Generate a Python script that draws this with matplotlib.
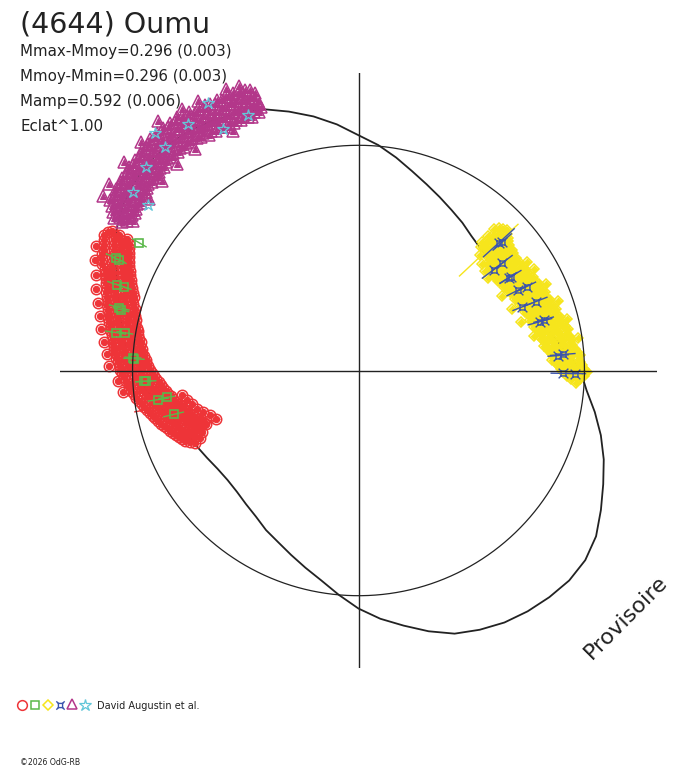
import numpy as np
import matplotlib
matplotlib.use('Agg')
import matplotlib.pyplot as plt
from matplotlib.path import Path

# lightcurve model: rotation angle (deg) -> relative brightness (mag)
curve_ang = [0, 5, 10, 15, 20, 25, 30, 35, 40, 45, 50, 55, 60, 65, 70, 75, 80, 85, 90, 95, 100, 105,
             110, 115, 120, 125, 130, 135, 140, 145, 150, 155, 160, 165, 170, 175, 180, 185, 190, 195,
             200, 205, 210, 215, 220, 225, 230, 235, 240, 245, 250, 255, 260, 265, 270, 275, 280, 285,
             290, 295, 300, 305, 310, 315, 320, 325, 330, 335, 340, 345, 350, 355]
curve_dm = [-0.019, -0.079, -0.130, -0.167, -0.191, -0.214, -0.228, -0.242, -0.251, -0.247, -0.233,
            -0.209, -0.186, -0.158, -0.126, -0.088, -0.042, 0.005, 0.047, 0.102, 0.153, 0.200, 0.247,
            0.274, 0.298, 0.316, 0.326, 0.326, 0.312, 0.288, 0.251, 0.195, 0.144, 0.102, 0.065, 0.033,
            0.000, -0.056, -0.107, -0.163, -0.200, -0.219, -0.237, -0.251, -0.256, -0.251, -0.237,
            -0.219, -0.191, -0.167, -0.135, -0.098, -0.056, 0.000, 0.060, 0.112, 0.158, 0.209, 0.256,
            0.284, 0.307, 0.321, 0.330, 0.335, 0.326, 0.298, 0.251, 0.205, 0.163, 0.116, 0.065, 0.014]

# red circles
red_ang = [150.4, 151.0, 151.9, 152.8, 153.7, 154.6, 155.5, 156.4, 157.3, 158.2, 159.1,
           160.0, 160.9, 161.8, 162.7, 163.6, 164.5, 165.4, 166.3, 167.2, 168.1, 169.0, 169.9, 170.8,
           171.7, 172.6, 173.5, 174.4, 175.3, 176.2, 177.1, 178.0, 178.9, 179.8, 180.7, 181.6, 182.5,
           183.4, 184.3, 185.2, 186.1, 187.0, 187.9, 188.8, 189.7, 190.6, 191.5, 192.4, 193.3, 194.2,
           195.1, 196.0, 196.9, 197.8, 198.7, 199.6, 200.5, 201.4, 202.3, 203.2, 204.1]
red_dm = [[0.27, 0.23, 0.19], [0.28, 0.24, 0.20, 0.17],
          [0.29, 0.24, 0.20, 0.16], [0.28, 0.23, 0.19, 0.15],
          [0.27, 0.22, 0.18, 0.14], [0.26, 0.21, 0.17, 0.13, 0.30], [0.26, 0.21, 0.16, 0.12],
          [0.25, 0.20, 0.15, 0.11], [0.24, 0.19, 0.14, 0.10, 0.28], [0.22, 0.18, 0.13, 0.09],
          [0.21, 0.17, 0.12, 0.08], [0.20, 0.16, 0.11, 0.07, 0.25], [0.19, 0.15, 0.10, 0.06],
          [0.18, 0.14, 0.09, 0.05], [0.18, 0.13, 0.09, 0.05, 0.23], [0.17, 0.13, 0.08, 0.04],
          [0.16, 0.12, 0.07, 0.03], [0.16, 0.11, 0.07, 0.03, 0.20], [0.15, 0.11, 0.06, 0.02],
          [0.14, 0.10, 0.05, 0.01], [0.14, 0.09, 0.05, 0.01, 0.18], [0.13, 0.09, 0.04, 0.00],
          [0.12, 0.08, 0.04, -0.01], [0.12, 0.07, 0.03, -0.01, 0.16], [0.11, 0.07, 0.02, -0.02],
          [0.10, 0.06, 0.02, -0.03], [0.10, 0.06, 0.01, -0.03, 0.14], [0.09, 0.05, 0.01, -0.04],
          [0.09, 0.04, 0.00, -0.04], [0.08, 0.04, -0.01, -0.05, 0.12], [0.08, 0.03, -0.01, -0.06],
          [0.07, 0.03, -0.02, -0.06], [0.06, 0.02, -0.03, -0.07, 0.11], [0.06, 0.01, -0.03, -0.08],
          [0.05, 0.00, -0.04, -0.09], [0.04, -0.01, -0.05, -0.10], [0.03, -0.02, -0.06, -0.11, 0.07],
          [0.02, -0.03, -0.07, -0.12], [0.02, -0.03, -0.08, -0.13], [0.01, -0.04, -0.09, -0.14, 0.05],
          [0.00, -0.05, -0.10, -0.15], [-0.01, -0.06, -0.11, -0.16], [-0.02, -0.07, -0.12, -0.17, -0.22],
          [-0.03, -0.08, -0.13, -0.18], [-0.04, -0.09, -0.14, -0.19, -0.24], [-0.05, -0.10, -0.15, -0.20],
          [-0.06, -0.11, -0.16, -0.21, -0.26], [-0.07, -0.12, -0.17, -0.22],
          [-0.08, -0.13, -0.18, -0.23, -0.28], [-0.09, -0.14, -0.19, -0.24],
          [-0.10, -0.15, -0.20, -0.25, -0.30], [-0.11, -0.16, -0.21, -0.26],
          [-0.12, -0.17, -0.22, -0.27, -0.33], [-0.13, -0.18, -0.23, -0.28],
          [-0.14, -0.19, -0.24, -0.29, -0.35], [-0.15, -0.20, -0.25, -0.30], [-0.16, -0.21, -0.26],
          [-0.17, -0.22, -0.27], [-0.18, -0.23], [-0.20, -0.25], [-0.22]]
red_bar_ang = [190.5, 197.5, 199.5]
red_bar_dm = [-0.08, -0.28, -0.30]
red_bar_err = [0.09, 0.08, 0.07]

# green squares
green_ang = [149.7, 155.1, 155.2, 160.4, 160.3, 165.2, 165.6, 171.1, 170.8, 176.7, 177.0, 182.9,
             182.9, 188.3, 188.0, 193.4]
green_dm = [0.13, 0.195, 0.177, 0.14, 0.11, 0.10, 0.09, 0.093, 0.05, 0.0, -0.005, -0.05, -0.06,
            -0.11, -0.15, -0.167]
green_err = [0.04, 0.05, 0.04, 0.05, 0.04, 0.05, 0.04, 0.05, 0.04, 0.04, 0.05, 0.04, 0.05, 0.05,
             0.04, 0.05]

# yellow diamonds
yel_ang = [46.3, 45.4, 44.5, 43.6, 42.7, 41.8, 40.9, 40.0, 39.1, 38.2, 37.3, 36.4, 35.5, 34.6, 33.7,
           32.8, 31.9, 31.0, 30.1, 29.2, 28.3, 27.4, 26.5, 25.6, 24.7, 23.8, 22.9, 22.0, 21.1, 20.2,
           19.3, 18.4, 17.5, 16.6, 15.7, 14.8, 13.9, 13.0, 12.1, 11.2, 10.3, 9.4, 8.5, 7.6, 6.7, 5.8,
           4.9, 4.0, 3.1, 2.2, 1.3, 0.4, -0.5, -1.4, -2.3, -3.2]
yel_dm = [[-0.14, -0.18, -0.22], [-0.12, -0.16, -0.20, -0.24], [-0.11, -0.15, -0.19, -0.23],
          [-0.10, -0.14, -0.18, -0.22, -0.27], [-0.11, -0.15, -0.19, -0.23], [-0.12, -0.16, -0.20, -0.24],
          [-0.13, -0.17, -0.21, -0.25, -0.29], [-0.14, -0.18, -0.22, -0.26], [-0.15, -0.19, -0.23, -0.27],
          [-0.14, -0.18, -0.22, -0.26, -0.30], [-0.15, -0.19, -0.23, -0.27], [-0.16, -0.20, -0.24, -0.28],
          [-0.15, -0.19, -0.23, -0.27, -0.31], [-0.16, -0.20, -0.24, -0.28], [-0.15, -0.19, -0.23, -0.27],
          [-0.16, -0.20, -0.24, -0.28, -0.12], [-0.15, -0.19, -0.23, -0.27], [-0.14, -0.18, -0.22, -0.26],
          [-0.15, -0.19, -0.23, -0.27, -0.11], [-0.14, -0.18, -0.22, -0.26], [-0.13, -0.17, -0.21, -0.25],
          [-0.14, -0.18, -0.22, -0.26, -0.30], [-0.13, -0.17, -0.21, -0.25], [-0.12, -0.16, -0.20, -0.24],
          [-0.13, -0.17, -0.21, -0.25, -0.09], [-0.12, -0.16, -0.20, -0.24], [-0.11, -0.15, -0.19, -0.23],
          [-0.12, -0.16, -0.20, -0.24, -0.28], [-0.11, -0.15, -0.19, -0.23], [-0.10, -0.14, -0.18, -0.22],
          [-0.11, -0.15, -0.19, -0.23, -0.07], [-0.10, -0.14, -0.18, -0.22], [-0.09, -0.13, -0.17, -0.21],
          [-0.10, -0.14, -0.18, -0.22, -0.26], [-0.09, -0.13, -0.17, -0.21], [-0.08, -0.12, -0.16, -0.20],
          [-0.09, -0.13, -0.17, -0.21, -0.05], [-0.08, -0.12, -0.16, -0.20], [-0.07, -0.11, -0.15, -0.19],
          [-0.06, -0.10, -0.14, -0.18, -0.22], [-0.07, -0.11, -0.15, -0.19], [-0.06, -0.10, -0.14, -0.18],
          [-0.05, -0.09, -0.13, -0.17, -0.02], [-0.06, -0.10, -0.14, -0.18], [-0.05, -0.09, -0.13, -0.17],
          [-0.04, -0.08, -0.12, -0.16], [-0.03, -0.07, -0.11, -0.15], [-0.02, -0.06, -0.10, -0.14],
          [-0.03, -0.07, -0.11, -0.15], [-0.02, -0.06, -0.10, -0.13], [-0.01, -0.05, -0.09, -0.12],
          [0.00, -0.04, -0.08, -0.11], [0.01, -0.03, -0.07, -0.10], [0.00, -0.04, -0.08], [-0.02, -0.06],
          [-0.04]]
yel_bar_ang = [43.2, 42.6]
yel_bar_dm = [-0.31, -0.11]
yel_bar_err = [0.10, 0.07]

# blue symbols
blue_ang = [42.4, 41.9, 36.8, 36.9, 31.8, 31.7, 26.8, 26.6, 21.3, 21.3, 15.1, 15.4, 4.3, 4.5, -0.8, -0.8]
blue_dm = [-0.167, -0.153, -0.265, -0.214, -0.23, -0.22, -0.22, -0.177, -0.233, -0.167, -0.177,
           -0.158, -0.12, -0.098, -0.098, -0.042]
blue_err = [0.10, 0.06, 0.07, 0.06, 0.05, 0.06, 0.06, 0.05, 0.05, 0.06, 0.06, 0.05, 0.05, 0.06,
            0.06, 0.05]

# purple triangles
pur_ang = [110.3, 111.1, 111.9, 112.7, 113.5, 114.3, 115.1, 115.9, 116.7, 117.5, 118.3, 119.1, 119.9,
           120.7, 121.5, 122.3, 123.1, 123.9, 124.7, 125.5, 126.3, 127.1, 127.9, 128.7, 129.5, 130.3,
           131.1, 131.9, 132.7, 133.5, 134.3, 135.1, 135.9, 136.7, 137.5, 138.3, 139.1, 139.9, 140.7,
           141.5, 142.3, 143.1, 143.9, 144.7, 145.5, 146.3, 147.1, 147.9]
pur_dm = [[0.33, 0.29, 0.26], [0.35, 0.31, 0.27, 0.24], [0.36, 0.32, 0.28, 0.25],
          [0.35, 0.31, 0.27, 0.23, 0.39], [0.36, 0.32, 0.28, 0.24], [0.37, 0.33, 0.29, 0.25],
          [0.36, 0.32, 0.28, 0.24, 0.40], [0.37, 0.33, 0.29, 0.25], [0.36, 0.32, 0.28, 0.24],
          [0.37, 0.33, 0.29, 0.25, 0.21], [0.36, 0.32, 0.28, 0.24], [0.37, 0.33, 0.29, 0.25],
          [0.38, 0.34, 0.30, 0.26], [0.37, 0.33, 0.29, 0.25, 0.41], [0.38, 0.34, 0.30, 0.26],
          [0.37, 0.33, 0.29, 0.25], [0.39, 0.35, 0.31, 0.27], [0.38, 0.34, 0.30, 0.26, 0.42],
          [0.39, 0.35, 0.31, 0.27], [0.40, 0.36, 0.32, 0.28], [0.39, 0.35, 0.31, 0.27, 0.23],
          [0.40, 0.36, 0.32, 0.28], [0.39, 0.35, 0.31, 0.27], [0.40, 0.36, 0.32, 0.28, 0.44],
          [0.39, 0.35, 0.31, 0.27], [0.40, 0.36, 0.32, 0.28], [0.39, 0.35, 0.31, 0.27, 0.23],
          [0.40, 0.36, 0.32, 0.28], [0.39, 0.35, 0.31, 0.27], [0.38, 0.34, 0.30, 0.26, 0.42],
          [0.39, 0.35, 0.31, 0.27], [0.38, 0.34, 0.30, 0.26], [0.37, 0.33, 0.29, 0.25, 0.22],
          [0.38, 0.34, 0.30, 0.26], [0.37, 0.33, 0.29, 0.25], [0.38, 0.34, 0.30, 0.26, 0.41],
          [0.37, 0.33, 0.29, 0.25], [0.36, 0.32, 0.28, 0.24], [0.37, 0.33, 0.29, 0.25, 0.21],
          [0.36, 0.32, 0.28, 0.24], [0.35, 0.31, 0.27, 0.23], [0.36, 0.32, 0.28, 0.24, 0.40],
          [0.35, 0.31, 0.27, 0.23], [0.34, 0.30, 0.26, 0.22], [0.35, 0.31, 0.27, 0.23, 0.39],
          [0.33, 0.29, 0.25, 0.21], [0.31, 0.27, 0.23], [0.29, 0.25]]

# cyan stars
cyan_ang = [119.3, 113.4, 119.2, 124.6, 130.5, 130.7, 136.2, 141.6, 141.7]
cyan_dm = [0.381, 0.247, 0.242, 0.349, 0.405, 0.326, 0.321, 0.288, 0.195]

title = "(4644) Oumu"
info_lines = ["Mmax-Mmoy=0.296 (0.003)", "Mmoy-Mmin=0.296 (0.003)", "Mamp=0.592 (0.006)", "Eclat^1.00"]
source = "David Augustin et al."

R0 = 0.757      # radius of mean magnitude circle
SCALE = 0.72    # radius units per magnitude

RED = '#ee3438'
GREEN = '#5bb84a'
YELLOW = '#f6e51c'
BLUE = '#3b54ad'
PURPLE = '#b3378a'
CYAN = '#63c7d9'
INK = '#222222'


def polar(ang, dm):
    a = np.radians(np.asarray(ang, dtype=float))
    r = R0 + SCALE * np.asarray(dm, dtype=float)
    return r * np.cos(a), r * np.sin(a)


def flatten(angs, groups):
    a = [ang for ang, g in zip(angs, groups) for _ in g]
    d = [v for g in groups for v in g]
    return a, d


def radial_bars(ax, ang, dm, err, color, lw=1.0, z=3):
    for a, d, e in zip(ang, dm, err):
        x, y = polar([a, a], [d - e, d + e])
        ax.plot(x, y, color=color, lw=lw, zorder=z, solid_capstyle='butt')


def cloud(ax, ang, groups, marker, ms, color):
    a, d = flatten(ang, groups)
    x, y = polar(a, d)
    # dense core, then the open symbols
    ax.plot(x, y, marker, ls='none', ms=ms * 0.6, mfc=color, mec=color, mew=0.8, zorder=2, clip_on=False)
    ax.plot(x, y, marker, ls='none', ms=ms, mfc='none', mec=color, mew=1.1, zorder=2, clip_on=False)


# blue marker: square with corner spikes
bv = [(-0.5, -0.5), (0.5, -0.5), (0.5, 0.5), (-0.5, 0.5), (-0.5, -0.5),
      (0.5, 0.5), (1, 1), (-0.5, 0.5), (-1, 1), (-0.5, -0.5), (-1, -1), (0.5, -0.5), (1, -1)]
bc = [Path.MOVETO, Path.LINETO, Path.LINETO, Path.LINETO, Path.CLOSEPOLY,
      Path.MOVETO, Path.LINETO, Path.MOVETO, Path.LINETO, Path.MOVETO, Path.LINETO,
      Path.MOVETO, Path.LINETO]
blue_marker = Path(bv, bc)

plt.rcParams['font.family'] = ['DejaVu Sans']

fig = plt.figure(figsize=(6.88, 7.68), dpi=100)
fig.patch.set_facecolor('white')
ax = fig.add_axes([60 / 688, 100 / 768, 597 / 688, 595 / 768])
ax.set_xlim(-1, 1)
ax.set_ylim(-1, 1)
ax.axis('off')

# model curve
cx, cy = polar(curve_ang + [curve_ang[0]], curve_dm + [curve_dm[0]])
ax.plot(cx, cy, color=INK, lw=1.3, zorder=1)

# big clouds
cloud(ax, red_ang, red_dm, 'o', 7.5, RED)
radial_bars(ax, red_bar_ang, red_bar_dm, red_bar_err, RED, z=2)
cloud(ax, pur_ang, pur_dm, '^', 8, PURPLE)
cloud(ax, yel_ang, yel_dm, 'D', 5.5, YELLOW)
radial_bars(ax, yel_bar_ang, yel_bar_dm, yel_bar_err, YELLOW, z=2)

# smaller series on top
radial_bars(ax, green_ang, green_dm, green_err, GREEN, z=3)
x, y = polar(green_ang, green_dm)
ax.plot(x, y, 's', ms=6, mfc='none', mec=GREEN, mew=1.2, zorder=3)

radial_bars(ax, blue_ang, blue_dm, blue_err, BLUE, z=3)
x, y = polar(blue_ang, blue_dm)
ax.plot(x, y, marker=blue_marker, ls='none', ms=7, mfc='none', mec=BLUE, mew=1.0, zorder=3)

x, y = polar(cyan_ang, cyan_dm)
ax.plot(x, y, '*', ms=9, mfc='none', mec=CYAN, mew=0.9, zorder=3, clip_on=False)

# reference circle and axes
t = np.linspace(0, 2 * np.pi, 400)
ax.plot(R0 * np.cos(t), R0 * np.sin(t), color=INK, lw=0.9, zorder=4)
ax.plot([-1, 1], [0, 0], color=INK, lw=1.0, zorder=4)
ax.plot([0, 0], [-1, 1], color=INK, lw=1.0, zorder=4)

# texts
fig.text(20 / 688, 1 - 33 / 768, title, fontsize=20.5, color=INK, va='baseline')
for i, line in enumerate(info_lines):
    fig.text(20 / 688, 1 - (56 + 25 * i) / 768, line, fontsize=10.8, color=INK, va='baseline')
fig.text(626 / 688, 1 - 617 / 768, "Provisoire", fontsize=16, color=INK, rotation=45,
         ha='center', va='center', rotation_mode='anchor')
fig.text(20 / 688, 1 - 765 / 768, "\u00a92026 OdG-RB", fontsize=5.6, color=INK, va='baseline')
fig.text(97 / 688, 1 - 709 / 768, source, fontsize=7, color=INK, va='baseline')

# legend symbols row
axl = fig.add_axes([0, 0, 1, 1])
axl.set_xlim(0, 688)
axl.set_ylim(768, 0)
axl.axis('off')
axl.plot([22], [705], 'o', ms=7, mfc='none', mec=RED, mew=1.1)
axl.plot([35], [705], 's', ms=5.5, mfc='none', mec=GREEN, mew=1.1)
axl.plot([48], [705], 'D', ms=5, mfc='none', mec=YELLOW, mew=1.1)
axl.plot([60], [705], marker=blue_marker, ls='none', ms=6, mfc='none', mec=BLUE, mew=1.0)
axl.plot([72], [704], '^', ms=7, mfc='none', mec=PURPLE, mew=1.1)
axl.plot([85], [705], '*', ms=9, mfc='none', mec=CYAN, mew=0.9)

fig.savefig('out.png', dpi=100, facecolor='white')
